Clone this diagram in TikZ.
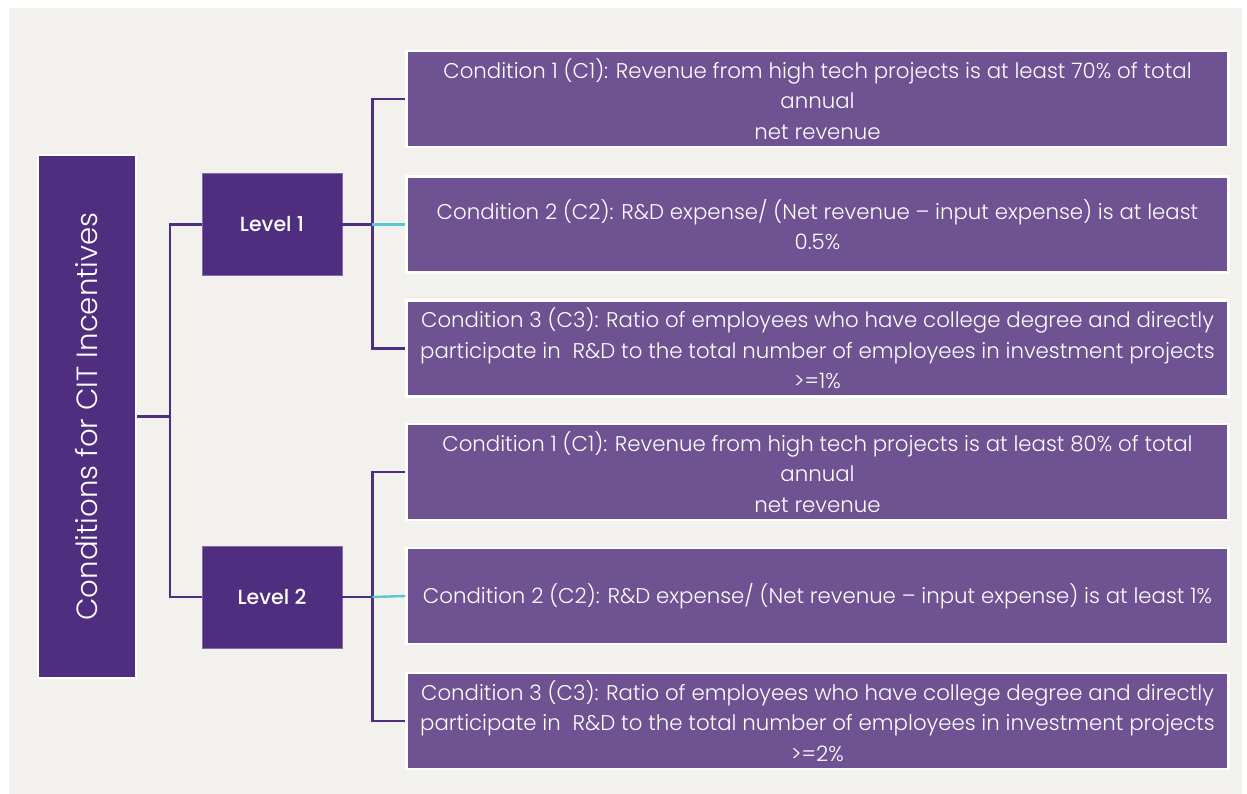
\documentclass[tikz,border=0pt]{standalone}
\usepackage{fontspec}
\setmainfont{Poppins}
\newfontfamily\lightfont{Poppins Light}
\newfontfamily\medfont{Poppins Medium}
\definecolor{bggrey}{HTML}{F2F1EE}
\definecolor{darkpurple}{HTML}{4F2D7F}
\definecolor{lightpurple}{HTML}{6F5292}
\definecolor{tealline}{HTML}{5BC8CF}
\begin{document}
\begin{tikzpicture}[x=1pt,y=-1pt,
  condbox/.style={fill=lightpurple,draw=white,line width=2.2pt,minimum width=822pt,minimum height=96pt,inner sep=0pt,align=center,text=white,font=\lightfont\fontsize{21.3}{30.5}\selectfont},
  levelbox/.style={fill=darkpurple,draw=darkpurple!70!white,line width=0.6pt,minimum width=140pt,minimum height=102pt,inner sep=0pt,text=white,font=\medfont\fontsize{20.5}{24}\selectfont},
  mainbox/.style={fill=darkpurple,draw=white,line width=2.2pt,minimum width=98pt,minimum height=523pt,inner sep=0pt,text=white},
  conn/.style={draw=darkpurple,line width=2.4pt},
  tconn/.style={draw=tealline,line width=2.4pt}]
\useasboundingbox (0,0) rectangle (1247,794);
\fill[bggrey] (9,8) rectangle (1242,794);
% main box
\node[mainbox] (main) at (87,416.5) {};
\node[text=white,rotate=90,font=\lightfont\fontsize{29.2}{32}\selectfont] (maintxt) at (main.center) {Conditions for CIT Incentives};
% level boxes
\node[levelbox] (l1) at (272,224.5) {Level 1};
\node[levelbox] (l2) at (272,597) {Level 2};
% conditions level 1
\node[condbox] (a1) at (817.5,99) {Condition 1 (C1): Revenue from high tech projects is at least 70\% of total\\annual\\net revenue};
\node[condbox] (a2) at (817.5,224.5) {Condition 2 (C2): R\&D expense/ (Net revenue – input expense) is at least\\0.5\%};
\node[condbox] (a3) at (817.5,348.5) {Condition 3 (C3): Ratio of employees who have college degree and directly\\participate in~ R\&D to the total number of employees in investment projects\\>=1\%};
% conditions level 2
\node[condbox] (b1) at (817.5,472) {Condition 1 (C1): Revenue from high tech projects is at least 80\% of total\\annual\\net revenue};
\node[condbox] (b2) at (817.5,596) {Condition 2 (C2): R\&D expense/ (Net revenue – input expense) is at least 1\%};
\node[condbox] (b3) at (817.5,721) {Condition 3 (C3): Ratio of employees who have college degree and directly\\participate in~ R\&D to the total number of employees in investment projects\\>=2\%};
% connectors main -> levels
\draw[conn] (l1.west) -- ++(-32,0) coordinate (ja) -- (ja |- l2.west) -- (l2.west);
\draw[conn] (main.east) -- (main.east -| ja);
% level 1 -> conditions
\draw[conn] (a1.west) -- ++(-33,0) coordinate (jb) -- (jb |- a3.west) -- (a3.west);
\draw[conn] (l1.east) -- (l1.east -| jb);
\draw[tconn] (l1.east -| jb) -- (a2.west);
% level 2 -> conditions
\draw[conn] (b1.west) -- ++(-33,0) coordinate (jc) -- (jc |- b3.west) -- (b3.west);
\draw[conn] (l2.east) -- (l2.east -| jc);
\draw[tconn] (l2.east -| jc) -- (b2.west);
\end{tikzpicture}
\end{document}
